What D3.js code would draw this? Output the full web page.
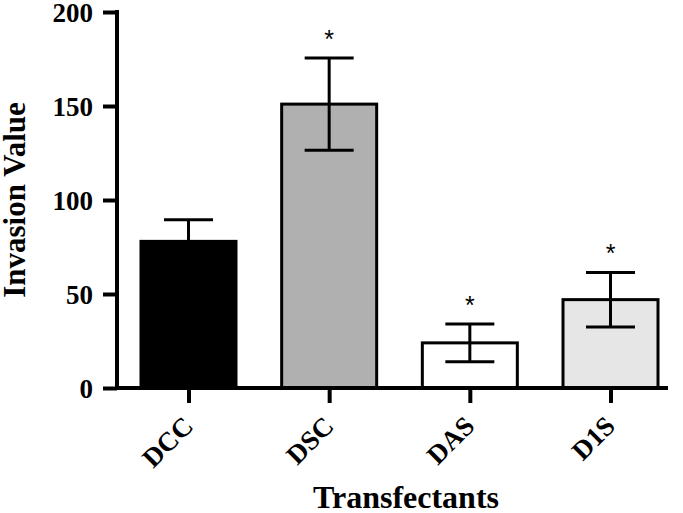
<!DOCTYPE html>
<html><head><meta charset="utf-8">
<script src="https://cdn.jsdelivr.net/npm/d3@7"></script>
<style>body{margin:0;background:#fff}svg{display:block}</style>
</head><body>
<svg id="c" width="683" height="513"></svg>
<script>
const categories = ["DCC", "DSC", "DAS", "D1S"];
const values = [78, 151, 24, 47];
const errors = [11.5, 24.5, 10, 14.5];
const significant = [false, true, true, true];
const fills = ["#000000", "#b0b0b0", "#ffffff", "#e6e6e6"];
const yTicks = [0, 50, 100, 150, 200];

const svg = d3.select("#c");
const font = "'Liberation Serif','Times New Roman',serif";
const y = d3.scaleLinear().domain([0, 200]).range([388, 12]);
const x = d3.scalePoint().domain(categories).range([188.5, 610.5]);
const barW = 95, capW = 49;

// bars
const g = svg.append("g");
categories.forEach((c, i) => {
  const cx = x(c);
  g.append("rect").attr("x", cx - barW/2).attr("y", y(values[i]))
    .attr("width", barW).attr("height", y(0) - y(values[i]))
    .attr("fill", fills[i]).attr("stroke", "#000").attr("stroke-width", 3);
  const hi = y(values[i] + errors[i]), lo = y(values[i] - errors[i]);
  const col = "#000";
  g.append("line").attr("x1", cx).attr("x2", cx).attr("y1", hi).attr("y2", lo)
    .attr("stroke", col).attr("stroke-width", 3);
  g.append("line").attr("x1", cx - capW/2).attr("x2", cx + capW/2).attr("y1", hi).attr("y2", hi)
    .attr("stroke", col).attr("stroke-width", 3);
  g.append("line").attr("x1", cx - capW/2).attr("x2", cx + capW/2).attr("y1", lo).attr("y2", lo)
    .attr("stroke", col).attr("stroke-width", 3);
  if (significant[i]) {
    g.append("text").attr("x", cx).attr("y", hi - 10).attr("text-anchor", "middle")
      .attr("font-family", "'Liberation Sans',Arial,sans-serif").attr("font-size", 25)
      .text("*");
  }
});

// y axis
const yAxis = svg.append("g").attr("transform", "translate(117,0)")
  .call(d3.axisLeft(y).tickValues(yTicks).tickSize(14).tickPadding(10).tickFormat(d3.format("d")));
yAxis.select(".domain").attr("d", `M0,${y(200)-2}V${y(0)}`).attr("stroke-width", 4);
yAxis.selectAll(".tick line").attr("stroke-width", 4);
yAxis.selectAll("text").attr("font-family", font).attr("font-weight", "bold").attr("font-size", 27)
  .attr("fill", "#000").attr("dy", "0.36em");

// x axis
const xAxis = svg.append("g").attr("transform", `translate(0,${y(0)})`)
  .call(d3.axisBottom(x).tickSize(15).tickPadding(8));
xAxis.select(".domain").attr("d", "M115,0H668").attr("stroke-width", 4);
xAxis.selectAll(".tick line").attr("stroke-width", 4);
xAxis.selectAll("text").attr("font-family", font).attr("font-weight", "bold").attr("font-size", 27)
  .attr("fill", "#000").attr("text-anchor", "end").attr("x", 0).attr("y", 0).attr("dy", "0.35em")
  .attr("transform", "translate(-1,33) rotate(-45)");

// titles
svg.append("text").attr("transform", "translate(25,200) rotate(-90)").attr("text-anchor", "middle")
  .attr("font-family", font).attr("font-weight", "bold").attr("font-size", 31).text("Invasion Value");
svg.append("text").attr("x", 406).attr("y", 508).attr("text-anchor", "middle")
  .attr("font-family", font).attr("font-weight", "bold").attr("font-size", 32).text("Transfectants");
</script>
</body></html>
